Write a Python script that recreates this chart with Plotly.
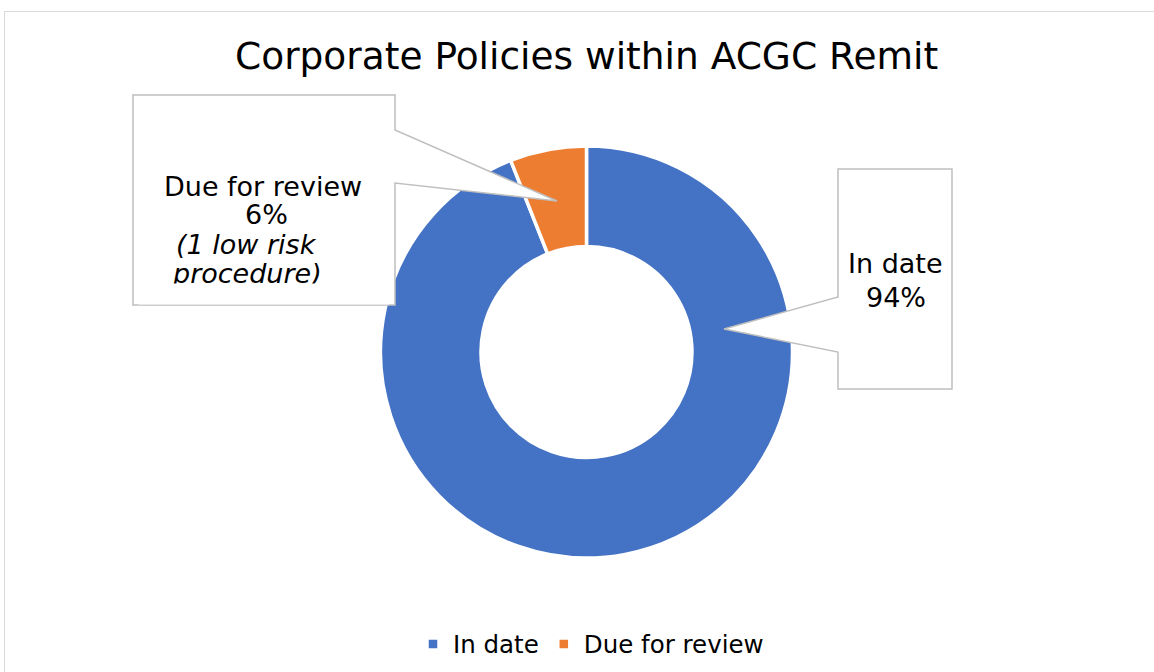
import plotly.graph_objects as go

W, H = 1154, 672
FONT = "DejaVu Sans"

labels = ["In date", "Due for review"]
values = [94, 6]
colors = ["#4472C4", "#ED7D31"]

title_text = "Corporate Policies within ACGC Remit"


def px_x(v):
    return v / W


def px_y(v):
    return 1 - v / H


def path(points):
    pts = [f"{px_x(x):.5f},{px_y(y):.5f}" for x, y in points]
    return "M " + " L ".join(pts) + " Z"


fig = go.Figure()
fig.add_trace(go.Pie(
    labels=labels,
    values=values,
    hole=0.512,
    sort=False,
    direction="clockwise",
    rotation=0,
    marker=dict(colors=colors, line=dict(color="white", width=3.5)),
    textinfo="none",
    hoverinfo="label+percent",
    domain=dict(x=[px_x(380.5), px_x(792.5)], y=[px_y(558), px_y(146)]),
))

border = dict(color="#D9D9D9", width=1)
callout_line = dict(color="#BFBFBF", width=1.5)

shapes = [
    # chart area border
    dict(type="rect", xref="paper", yref="paper",
         x0=px_x(4.5), x1=px_x(1170), y0=px_y(11.5), y1=px_y(700),
         line=border, fillcolor="rgba(0,0,0,0)", layer="below"),
    # left callout
    dict(type="path", xref="paper", yref="paper", layer="above",
         path=path([(133, 95), (395, 95), (395, 130), (557, 201), (395, 183),
                    (395, 305), (133, 305)]),
         fillcolor="white", line=callout_line),
    # right callout
    dict(type="path", xref="paper", yref="paper", layer="above",
         path=path([(838, 169), (952, 169), (952, 389), (838, 389), (838, 352),
                    (724, 329), (838, 297)]),
         fillcolor="white", line=callout_line),
]


def txt(s, x, y, size=27, italic=False):
    return dict(text=f"<i>{s}</i>" if italic else s,
                x=px_x(x), y=px_y(y), xref="paper", yref="paper",
                xanchor="center", yanchor="middle", showarrow=False,
                font=dict(family=FONT, size=size, color="black"))


annotations = [
    txt(title_text, 586, 56, size=37.5),
    txt("Due for review", 263, 186),
    txt("6%", 266, 215),
    txt("(1 low risk", 246, 244, italic=True),
    txt("procedure)", 247, 273, italic=True),
    # the callout box clips the last line
    dict(text=" ", x=px_x(264), y=px_y(282.5), xref="paper", yref="paper",
         xanchor="center", yanchor="top", showarrow=False,
         width=250, height=20, bgcolor="white", borderpad=0,
         font=dict(size=10)),
    txt("In date", 895, 264),
    txt("94%", 896, 297),
]

fig.update_layout(
    width=W, height=H,
    margin=dict(l=0, r=0, t=0, b=0),
    paper_bgcolor="white",
    plot_bgcolor="white",
    font=dict(family=FONT, color="black"),
    shapes=shapes,
    annotations=annotations,
    showlegend=True,
    legend=dict(orientation="h", x=px_x(591), y=px_y(644),
                xanchor="center", yanchor="middle",
                font=dict(family=FONT, size=24.5, color="black"),
                itemclick=False),
)

fig.write_html(
    "out.html",
    config={"displayModeBar": False},
    post_script="document.body.style.margin='0';document.body.style.overflow='hidden';",
)
